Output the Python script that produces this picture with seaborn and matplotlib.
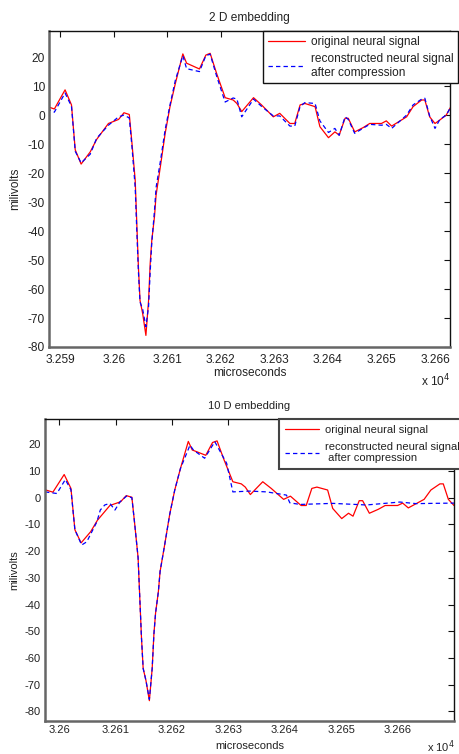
import matplotlib
matplotlib.use("Agg")
import matplotlib.pyplot as plt
from matplotlib.ticker import FixedLocator, FuncFormatter
import seaborn as sns

# ---------------- data (time in microseconds, voltage in millivolts) ----------------
time_2d = [32587.5, 32588.9, 32590.9, 32592.1, 32592.8, 32593.9, 32595.6, 32596.8, 32599.0, 32600.9,
           32601.9, 32602.9, 32603.4, 32604.0, 32604.3, 32604.6, 32604.9, 32605.4, 32606.0, 32606.5,
           32606.8, 32607.1, 32607.6, 32607.9, 32608.7, 32609.6, 32610.5, 32611.5, 32612.9, 32613.6,
           32616.0, 32617.2, 32618.0, 32619.2, 32620.8, 32622.3, 32623.0, 32623.9, 32626.1, 32627.6,
           32629.8, 32631.0, 32632.9, 32633.8, 32634.8, 32635.7, 32637.6, 32638.5, 32640.1, 32641.3,
           32642.1, 32643.2, 32643.8, 32645.0, 32646.6, 32647.8, 32650.0, 32650.9, 32651.9, 32654.7,
           32655.9, 32657.5, 32658.1, 32659.0, 32660.0, 32660.9, 32662.1, 32663.0]
original_2d = [3.0, 2.1, 8.7, 3.5, -12.0, -16.9, -12.7, -8.4, -2.9, -1.5,
               0.8, 0.2, -9.8, -22.4, -37.4, -52.4, -63.9, -68.5, -76.0, -63.9,
               -51.2, -43.2, -35.1, -27.6, -17.8, -6.3, 2.9, 10.9, 21.1, 17.9,
               15.9, 20.7, 21.3, 14.4, 6.0, 5.2, 4.0, 1.2, 6.0, 3.5,
               -0.6, 0.6, -2.9, -2.9, 3.5, 4.0, 2.9, -4.0, -7.8, -5.8,
               -6.9, -1.1, -1.1, -5.8, -4.3, -2.9, -2.9, -2.0, -3.8, -0.6,
               2.9, 5.2, 5.2, -0.6, -2.9, -1.7, 0.0, 3.0]
reconstructed_2d = [2.2, 1.0, 7.6, 3.0, -12.5, -16.5, -13.5, -8.0, -3.5, -0.6,
                    0.0, -1.0, -11.0, -25.0, -40.0, -54.0, -64.5, -67.0, -73.0, -66.0,
                    -54.0, -44.0, -33.0, -25.0, -16.0, -5.0, 3.5, 12.0, 20.5, 16.0,
                    15.0, 20.5, 21.0, 13.5, 4.5, 5.9, 5.5, -0.6, 5.5, 3.0,
                    -0.3, -0.3, -3.8, -3.8, 3.0, 4.3, 4.0, -2.0, -6.0, -4.6,
                    -7.0, -0.6, -1.5, -6.3, -4.5, -3.2, -3.5, -3.2, -4.6, 0.0,
                    3.5, 5.5, 5.8, -0.3, -4.6, -1.5, 0.0, 3.0]

time_10d = [32597.5, 32598.9, 32600.9, 32602.1, 32602.8, 32603.9, 32605.6, 32606.8, 32609.0, 32610.9,
            32611.9, 32612.9, 32613.4, 32614.0, 32614.3, 32614.6, 32614.9, 32615.4, 32616.0, 32616.5,
            32616.8, 32617.1, 32617.6, 32617.9, 32618.7, 32619.6, 32620.5, 32621.5, 32622.9, 32623.6,
            32626.0, 32627.2, 32628.0, 32629.2, 32630.8, 32632.3, 32633.0, 32633.9, 32636.1, 32637.6,
            32639.8, 32641.0, 32642.9, 32643.8, 32644.8, 32645.7, 32647.6, 32648.5, 32650.1, 32651.3,
            32652.1, 32653.2, 32653.8, 32655.0, 32656.6, 32657.8, 32660.0, 32660.9, 32661.9, 32664.7,
            32665.9, 32667.5, 32668.1, 32669.0, 32670.0, 32670.9, 32672.1, 32673.0]
original_10d = original_2d
time_rec_10d = [32597.5, 32599.6, 32601.1, 32602.1, 32602.8, 32604.0, 32604.9, 32606.7, 32607.3, 32608.1,
                32609.0, 32609.9, 32610.8, 32612.0, 32612.9, 32613.4, 32614.0, 32614.3, 32614.6, 32614.9,
                32615.4, 32616.0, 32616.5, 32616.8, 32617.1, 32617.6, 32617.9, 32618.7, 32619.6, 32620.5,
                32621.5, 32623.2, 32623.8, 32625.8, 32627.6, 32629.7, 32630.8, 32633.8, 32636.8, 32640.3,
                32640.9, 32642.7, 32648.5, 32654.5, 32660.4, 32663.3, 32666.2, 32670.0]
reconstructed_10d = [2.2, 1.6, 6.8, 3.0, -12.0, -17.7, -16.5, -9.0, -4.6, -2.7,
                     -2.1, -4.6, -1.5, 0.7, 0.0, -9.8, -22.4, -37.4, -52.4, -63.9,
                     -68.5, -75.5, -63.9, -51.2, -43.2, -35.1, -27.6, -17.8, -6.3, 2.9,
                     10.9, 19.7, 17.9, 14.8, 21.0, 12.9, 2.2, 2.5, 2.2, 1.0,
                     -1.9, -2.5, -2.1, -2.7, -1.6, -2.2, -2.1, -2.0]

xticks_2d = [32590, 32600, 32610, 32620, 32630, 32640, 32650, 32660]
xticks_10d = [32600, 32610, 32620, 32630, 32640, 32650, 32660]
yticks = [-80, -70, -60, -50, -40, -30, -20, -10, 0, 10, 20]

label_orig = "original neural signal"
label_rec_2d = "reconstructed neural signal\nafter compression"
label_rec_10d = "reconstructed neural signal\n after compression"

# ---------------- style ----------------
sns.set_theme(style="white")
plt.rcParams["font.family"] = ["Liberation Sans", "DejaVu Sans"]
plt.rcParams["axes.unicode_minus"] = False
TXT = "#222222"

fig = plt.figure(figsize=(4.6, 7.54), dpi=100)
fig.patch.set_facecolor("white")
W, H = 460, 754
ax1 = fig.add_axes([49 / W, (H - 347) / H, 401 / W, 316 / H])
ax2 = fig.add_axes([45 / W, (H - 720.7) / H, 409 / W, 301.7 / H])


def draw(ax, t_o, y_o, t_r, y_r, lab_r, xticks, xlim, ylim, title, leg_x, leg_edge, leg_lw,
         fs, xpad, lspace, bpad):
    sns.lineplot(x=t_o, y=y_o, ax=ax, color="#ff0000", linewidth=0.9,
                 label=label_orig, estimator=None, sort=False)
    sns.lineplot(x=t_r, y=y_r, ax=ax, color="#0000ff", linewidth=0.9,
                 linestyle=(0, (3.5, 2.5)), label=lab_r, estimator=None, sort=False)
    ax.set_xlim(*xlim)
    ax.set_ylim(*ylim)
    ax.xaxis.set_major_locator(FixedLocator(xticks))
    ax.xaxis.set_major_formatter(FuncFormatter(lambda v, p: f"{v / 1e4:g}"))
    ax.yaxis.set_major_locator(FixedLocator(yticks))
    ax.tick_params(direction="in", length=4, width=0.8, top=True, right=True,
                   labelsize=fs, pad=3, colors="#111111", labelcolor=TXT)
    ax.tick_params(axis="x", pad=xpad)
    for side in ["left", "bottom"]:
        ax.spines[side].set_color("#666666")
        ax.spines[side].set_linewidth(1.8)
    for side in ["top", "right"]:
        ax.spines[side].set_color("#111111")
        ax.spines[side].set_linewidth(1.0)
    ax.set_title(title, fontsize=fs, color=TXT, pad=7)
    ax.set_xlabel("microseconds", fontsize=fs, color=TXT)
    ax.set_ylabel("milivolts", fontsize=fs, color=TXT)
    leg = ax.legend(loc="upper left", bbox_to_anchor=(leg_x, 1.0), borderaxespad=0,
                    fontsize=fs, frameon=True, fancybox=False, framealpha=1,
                    borderpad=bpad, labelspacing=lspace, handlelength=3.1,
                    handletextpad=0.5)
    leg.get_frame().set_edgecolor(leg_edge)
    leg.get_frame().set_linewidth(leg_lw)
    for txt in leg.get_texts():
        txt.set_color(TXT)
    return leg


draw(ax1, time_2d, original_2d, time_2d, reconstructed_2d, label_rec_2d,
     xticks_2d, (32587.9, 32662.8), (-80, 29), "2 D embedding", 0.534, "#111111", 1.0,
     8.6, 5, 0.42, 0.4)
draw(ax2, time_10d, original_10d, time_rec_10d, reconstructed_10d, label_rec_10d,
     xticks_10d, (32597.5, 32670.0), (-83.5, 29.5), "10 D embedding", 0.573, "#444444", 1.5,
     8.0, 3, 0.65, 0.5)

ax1.xaxis.set_label_coords(0.5, -0.064)
ax2.xaxis.set_label_coords(0.5, -0.066)
ax1.yaxis.set_label_coords(-0.07, 0.5)
ax2.yaxis.set_label_coords(-0.064, 0.5)

fig.text(421 / W, 1 - 381 / H, r"x 10$^{4}$", fontsize=8.6, color=TXT, va="center", ha="left")
fig.text(427 / W, 1 - 747 / H, r"x 10$^{4}$", fontsize=8.0, color=TXT, va="center", ha="left")

fig.savefig("out.png", dpi=100)
